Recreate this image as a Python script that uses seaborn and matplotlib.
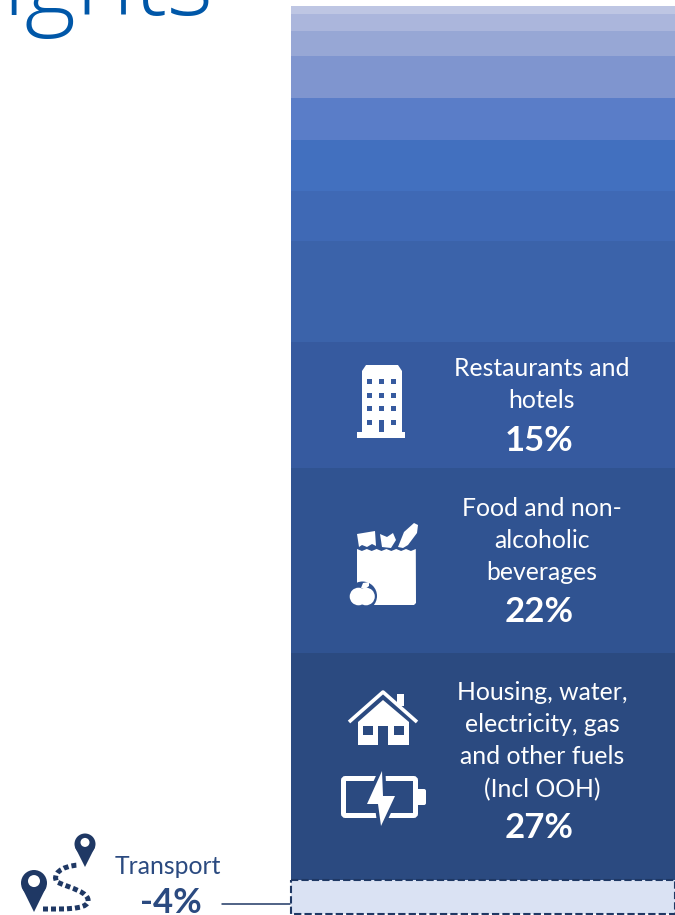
import matplotlib

matplotlib.use("Agg")
import matplotlib.pyplot as plt
import pandas as pd
import seaborn as sns
from matplotlib.patches import Circle, FancyBboxPatch, PathPatch, Polygon, Rectangle
from matplotlib.path import Path

# stacked from the bottom up; the top eight bands carry no visible label
categories = [
    "Housing, water,\nelectricity, gas\nand other fuels\n(Incl OOH)",
    "Food and non-\nalcoholic\nbeverages",
    "Restaurants and\nhotels",
    "", "", "", "", "", "", "", "",
]
values = [27, 22, 15, 12, 6, 6, 5, 5, 3, 2, 1]
band_colors = [
    "#2B4A80", "#305391", "#365A9F", "#3B63AA", "#3F69B5", "#4270BF",
    "#5A7DC8", "#7F95CF", "#97A7D5", "#ABB6DC", "#BEC6E3",
]
negative_label = "Transport"
negative_value = -4

WHITE = "#FFFFFF"
NAVY = "#1F3864"
TEXT_NAVY = "#2B4A80"
W, H = 675, 915


def draw_bars(ax) -> None:
    frame = pd.DataFrame({"category": categories, "value": values})
    bottoms = frame["value"].cumsum().shift(fill_value=0)
    for value, bottom, color in zip(frame["value"], bottoms, band_colors):
        sns.barplot(x=[0], y=[value], bottom=bottom, color=color, saturation=1,
                    width=1, linewidth=0, ax=ax)
    sns.barplot(x=[0], y=[negative_value], color="#DAE2F3", saturation=1, width=1,
                edgecolor=NAVY, linewidth=1.5, linestyle=(0, (3.5, 1.5)), ax=ax)
    ax.patches[-1].set_clip_on(False)
    ax.set_xlim(-0.5, 0.5)
    ax.set_ylim(negative_value, sum(values))
    ax.axis("off")


def building(ov, bg) -> None:
    ov.add_patch(Polygon([(362, 432), (362, 371), (366, 365), (398, 365), (402, 371), (402, 432)], fc=WHITE, lw=0))
    ov.add_patch(Rectangle((357, 432), 48, 5.5, fc=WHITE, lw=0))
    for cx in (367, 379, 391):
        for cy in (379, 393, 406, 420):
            ov.add_patch(Rectangle((cx, cy), 5, 5, fc=bg, lw=0))
    ov.add_patch(Rectangle((379, 420), 5, 12, fc=bg, lw=0))


def grocery_bag(ov, bg) -> None:
    top = [(357 + i * 4.9, 549 + (i % 2) * 2) for i in range(13)]
    ov.add_patch(Polygon(top + [(416, 603), (414, 605), (357, 605)], fc=WHITE, lw=0))
    ov.add_patch(Polygon([(357, 534), (375, 531), (376, 546), (372, 544), (367, 547), (362, 545), (359, 547)], fc=WHITE, lw=0))
    ov.add_patch(Polygon([(380, 534), (387, 537), (393, 533), (396, 540), (391, 548), (382, 547)], fc=WHITE, lw=0))
    ov.add_patch(Polygon([(398, 547), (404, 532), (414, 523), (418, 525), (417, 533), (408, 545), (403, 548)], fc=WHITE, lw=0))
    ov.add_patch(Circle((362.5, 596), 14.5, fc=bg, lw=0))
    ov.add_patch(Circle((358.5, 596.5), 8.8, fc=WHITE, lw=0))
    ov.add_patch(Circle((366, 596.5), 8.8, fc=WHITE, lw=0))
    ov.add_patch(Polygon([(361, 588), (363, 583), (369, 582), (369, 586), (365, 589)], fc=WHITE, lw=0))


def house(ov, bg) -> None:
    ov.plot([349, 383, 417], [722, 692, 722], color=WHITE, lw=2.6, solid_capstyle="butt")
    ov.add_patch(Rectangle((397, 694), 7, 12, fc=WHITE, lw=0))
    ov.add_patch(Polygon([(358, 745), (358, 722), (383, 700), (409, 722), (409, 745)], fc=WHITE, lw=0))
    ov.add_patch(Rectangle((363, 726), 10, 9, fc=bg, lw=0))
    ov.add_patch(Rectangle((394, 726), 10, 9, fc=bg, lw=0))
    ov.add_patch(Rectangle((378, 726), 10, 19, fc=bg, lw=0))


def battery(ov, bg) -> None:
    ov.add_patch(FancyBboxPatch((343.5, 778.5), 72, 37, boxstyle="round,pad=0,rounding_size=2",
                                fc="none", ec=WHITE, lw=3.6))
    ov.add_patch(FancyBboxPatch((416, 789), 10, 16, boxstyle="round,pad=0,rounding_size=2", fc=WHITE, lw=0))
    bolt = [(382, 771), (367, 804), (378, 804), (381, 826), (395, 796), (383, 796)]
    ov.add_patch(Polygon(bolt, fc=WHITE, ec=bg, lw=5, joinstyle="miter"))
    ov.add_patch(Polygon(bolt, fc=WHITE, lw=0))


def pin(ov, cx, cy, radius, tip_y, hole) -> None:
    ov.add_patch(Circle((cx, cy), radius, fc=NAVY, lw=0))
    ov.add_patch(Polygon([(cx - radius * 0.95, cy + radius * 0.3), (cx, tip_y), (cx + radius * 0.95, cy + radius * 0.3)],
                         fc=NAVY, lw=0))
    ov.add_patch(Circle((cx, cy - radius * 0.15), hole, fc=WHITE, lw=0))


def transport_icon(ov) -> None:
    pin(ov, 34, 883, 13, 912, 6)
    pin(ov, 85, 844, 10.5, 867, 4.5)
    verts = [(43, 909), (62, 909), (85, 910), (88, 902), (90, 892), (70, 888), (57, 882),
             (52, 875), (60, 866), (79, 865)]
    codes = [Path.MOVETO] + [Path.CURVE4] * 9
    ov.add_patch(PathPatch(Path(verts, codes), fc="none", ec=NAVY, lw=3.6, linestyle=(0, (1, 0.6))))


def draw_labels(ov) -> None:
    font = {"family": "Lato", "ha": "center", "va": "center"}
    line_ys = [(692, 724, 756, 790), (508, 540, 573), (369, 401)]
    value_ys = [828, 612, 441]
    for i, ys in enumerate(line_ys):
        for line, y in zip(categories[i].split("\n"), ys):
            ov.text(542, y, line, color=WHITE, fontsize=17.8, **font)
        ov.text(539, value_ys[i], f"{values[i]}%", color=WHITE, fontsize=25, fontweight="bold", **font)
    ov.text(168, 866, negative_label, color=TEXT_NAVY, fontsize=17.8, **font)
    ov.text(171, 903, f"{negative_value}%", color=TEXT_NAVY, fontsize=25, fontweight="bold", **font)
    ov.plot([222, 290], [904, 904], color=NAVY, lw=1.1)
    ov.text(3, 15, "ights", color="#0057A8", fontsize=71, family="Open Sans", fontweight="light",
            ha="left", va="baseline")


def main() -> None:
    sns.set_theme(style="white")
    fig = plt.figure(figsize=(W / 100, H / 100), dpi=100, facecolor=WHITE)
    ax = fig.add_axes([291 / W, 1 - 913.6 / H, (W - 291) / W, (913.6 - 6) / H])
    draw_bars(ax)

    ov = fig.add_axes([0, 0, 1, 1], facecolor="none")
    ov.set_xlim(0, W)
    ov.set_ylim(H, 0)
    ov.axis("off")
    building(ov, band_colors[2])
    grocery_bag(ov, band_colors[1])
    house(ov, band_colors[0])
    battery(ov, band_colors[0])
    transport_icon(ov)
    draw_labels(ov)
    fig.savefig("out.png", dpi=100)


if __name__ == "__main__":
    main()
